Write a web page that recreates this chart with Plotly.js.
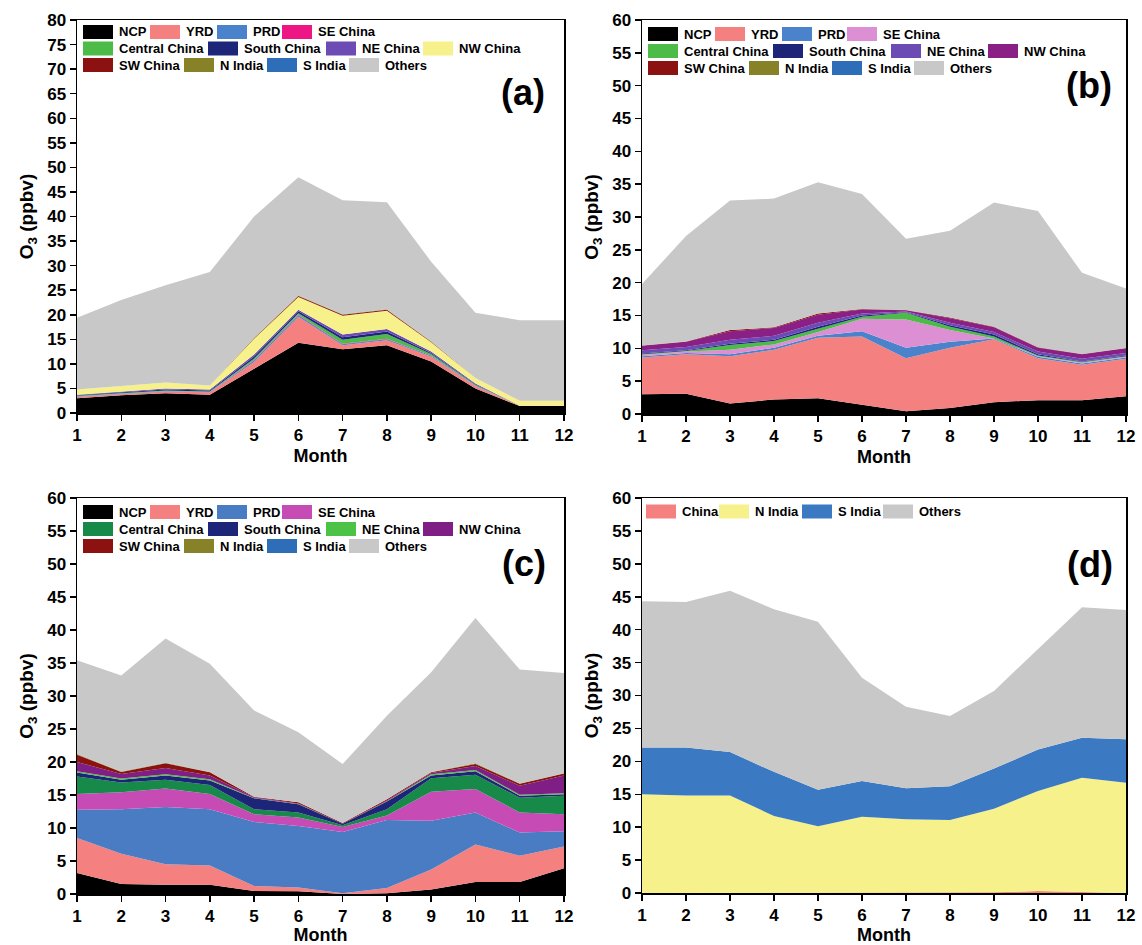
<!DOCTYPE html>
<html>
<head>
<meta charset="utf-8">
<script src="https://cdn.plot.ly/plotly-3.0.1.min.js"></script>
<style>
html, body { margin: 0; padding: 0; background: #ffffff; }
#chart { width: 1142px; height: 945px; }
</style>
</head>
<body>
<div id="chart"></div>
<script>
// ---------------- DATA ----------------
const months = [1, 2, 3, 4, 5, 6, 7, 8, 9, 10, 11, 12];
const monthLabels = ['1', '2', '3', '4', '5', '6', '7', '8', '9', '10', '11', '12'];

const regionNames = ['NCP', 'YRD', 'PRD', 'SE China', 'Central China', 'South China',
                     'NE China', 'NW China', 'SW China', 'N India', 'S India', 'Others'];
const regionNamesD = ['China', 'N India', 'S India', 'Others'];
const panelLabels = ['(a)', '(b)', '(c)', '(d)'];

// Panel (a)
const a_NCP     = [3.0, 3.6, 4.0, 3.7, 9.0, 14.3, 13.0, 13.8, 10.5, 5.0, 1.4, 1.4];
const a_YRD     = [0.3, 0.3, 0.4, 0.5, 1.4, 5.3, 0.8, 1.0, 1.0, 0.5, 0.1, 0.1];
const a_PRD     = [0.1, 0.1, 0.1, 0.1, 0.3, 0.3, 0.2, 0.2, 0.2, 0.1, 0.0, 0.0];
const a_SEChina = [0.0, 0.0, 0.0, 0.0, 0.1, 0.1, 0.1, 0.1, 0.0, 0.0, 0.0, 0.0];
const a_Central = [0.1, 0.1, 0.1, 0.1, 0.3, 0.3, 0.8, 1.0, 0.3, 0.1, 0.0, 0.0];
const a_South   = [0.1, 0.1, 0.2, 0.2, 0.4, 0.4, 0.5, 0.5, 0.2, 0.1, 0.0, 0.0];
const a_NE      = [0.1, 0.1, 0.2, 0.2, 0.4, 0.3, 0.6, 0.5, 0.3, 0.2, 0.0, 0.0];
const a_NW      = [1.1, 1.2, 1.2, 0.8, 3.2, 2.6, 3.8, 3.7, 1.9, 1.1, 1.0, 1.0];
const a_SW      = [0.0, 0.0, 0.0, 0.0, 0.1, 0.2, 0.2, 0.2, 0.1, 0.0, 0.0, 0.0];
const a_NIndia  = [0.0, 0.0, 0.0, 0.0, 0.1, 0.1, 0.1, 0.1, 0.1, 0.0, 0.0, 0.0];
const a_SIndia  = [0.0, 0.0, 0.0, 0.0, 0.0, 0.0, 0.0, 0.0, 0.0, 0.0, 0.0, 0.0];
const a_Others  = [14.6, 17.5, 19.8, 23.1, 24.7, 24.1, 23.2, 21.8, 16.2, 13.3, 16.4, 16.4];

// Panel (b)
const b_NCP     = [3.0, 3.1, 1.6, 2.2, 2.4, 1.4, 0.4, 0.9, 1.8, 2.1, 2.1, 2.7];
const b_YRD     = [5.6, 6.0, 7.2, 7.6, 9.2, 10.4, 8.1, 9.2, 9.6, 6.4, 5.4, 5.7];
const b_PRD     = [0.2, 0.2, 0.3, 0.3, 0.3, 0.8, 1.6, 0.9, 0.1, 0.2, 0.2, 0.2];
const b_SEChina = [0.2, 0.2, 0.7, 0.5, 0.6, 1.9, 4.3, 1.8, 0.0, 0.1, 0.1, 0.1];
const b_Central = [0.1, 0.1, 0.7, 0.5, 0.5, 0.3, 1.0, 0.5, 0.3, 0.1, 0.1, 0.1];
const b_South   = [0.1, 0.1, 0.2, 0.2, 0.3, 0.2, 0.1, 0.2, 0.3, 0.2, 0.1, 0.1];
const b_NE      = [0.5, 0.5, 0.6, 0.6, 0.6, 0.3, 0.1, 0.4, 0.4, 0.4, 0.4, 0.4];
const b_NW      = [0.7, 0.8, 1.3, 1.2, 1.2, 0.6, 0.2, 0.7, 0.7, 0.6, 0.7, 0.7];
const b_SW      = [0.05, 0.05, 0.2, 0.1, 0.2, 0.1, 0.05, 0.1, 0.1, 0.05, 0.05, 0.05];
const b_NIndia  = [0.0, 0.0, 0.0, 0.0, 0.0, 0.0, 0.0, 0.0, 0.0, 0.0, 0.0, 0.0];
const b_SIndia  = [0.0, 0.0, 0.0, 0.0, 0.0, 0.0, 0.0, 0.0, 0.0, 0.0, 0.0, 0.0];
const b_Others  = [9.35, 16.05, 19.7, 19.6, 20.0, 17.5, 10.85, 13.2, 18.9, 20.75, 12.35, 9.05];

// Panel (c)
const c_NCP     = [3.2, 1.5, 1.4, 1.4, 0.45, 0.4, 0.0, 0.1, 0.7, 1.8, 1.8, 3.9];
const c_YRD     = [5.3, 4.6, 3.1, 2.9, 0.75, 0.6, 0.1, 0.8, 3.0, 5.7, 4.0, 3.3];
const c_PRD     = [4.25, 6.75, 8.7, 8.55, 9.7, 9.3, 9.3, 10.3, 7.4, 4.85, 3.5, 2.3];
const c_SEChina = [2.4, 2.55, 2.8, 2.3, 1.2, 1.3, 0.75, 0.7, 4.4, 3.55, 3.05, 2.6];
const c_Central = [2.65, 1.5, 1.3, 1.35, 0.75, 0.75, 0.25, 0.95, 2.05, 2.15, 2.25, 2.8];
const c_South   = [0.6, 0.4, 0.65, 0.7, 1.65, 1.25, 0.25, 1.15, 0.4, 0.55, 0.3, 0.2];
const c_NE      = [0.2, 0.2, 0.2, 0.2, 0.05, 0.05, 0.0, 0.05, 0.2, 0.2, 0.15, 0.15];
const c_NW      = [1.4, 0.7, 0.95, 0.55, 0.1, 0.05, 0.0, 0.1, 0.2, 0.6, 1.35, 2.7];
const c_SW      = [1.1, 0.3, 0.7, 0.5, 0.1, 0.2, 0.1, 0.2, 0.1, 0.3, 0.3, 0.3];
const c_NIndia  = [0.1, 0.05, 0.1, 0.05, 0.0, 0.0, 0.0, 0.0, 0.05, 0.1, 0.05, 0.05];
const c_SIndia  = [0.0, 0.0, 0.0, 0.0, 0.0, 0.0, 0.0, 0.0, 0.0, 0.0, 0.0, 0.0];
const c_Others  = [14.2, 14.55, 18.8, 16.4, 13.05, 10.6, 8.95, 12.65, 15.1, 22.0, 17.25, 15.2];

// Panel (d)
const d_China   = [0.0, 0.0, 0.0, 0.0, 0.0, 0.0, 0.0, 0.0, 0.1, 0.3, 0.1, 0.0];
const d_NIndia  = [15.0, 14.8, 14.8, 11.7, 10.15, 11.6, 11.2, 11.1, 12.7, 15.2, 17.4, 16.75];
const d_SIndia  = [7.1, 7.3, 6.6, 6.7, 5.55, 5.4, 4.7, 5.1, 6.1, 6.3, 6.1, 6.6];
const d_Others  = [22.2, 22.1, 24.5, 24.7, 25.5, 15.7, 12.4, 10.7, 11.8, 15.3, 19.8, 19.65];

// ---------------- STYLE ----------------
const colorsA = ['#000000', '#f4817f', '#4a82cc', '#ee1585', '#4cbb47', '#1c2578',
                 '#6c4bb4', '#f7f18c', '#8c1212', '#878228', '#2e6db7', '#c8c8c8'];
const colorsB = ['#000000', '#f4817f', '#4a82cc', '#dd8fd3', '#4cbb47', '#1c2578',
                 '#6c4bb4', '#8a1f86', '#8c1212', '#878228', '#2e6db7', '#c8c8c8'];
const colorsC = ['#000000', '#f4817f', '#4a7cc4', '#c74bb5', '#178a4a', '#1c2578',
                 '#4cc247', '#7f1f86', '#8c1212', '#878228', '#2e6db7', '#c8c8c8'];
const colorsD = ['#f4817f', '#f7f18c', '#3b79c3', '#c8c8c8'];

const seriesA = [a_NCP, a_YRD, a_PRD, a_SEChina, a_Central, a_South, a_NE, a_NW, a_SW, a_NIndia, a_SIndia, a_Others];
const seriesB = [b_NCP, b_YRD, b_PRD, b_SEChina, b_Central, b_South, b_NE, b_NW, b_SW, b_NIndia, b_SIndia, b_Others];
const seriesC = [c_NCP, c_YRD, c_PRD, c_SEChina, c_Central, c_South, c_NE, c_NW, c_SW, c_NIndia, c_SIndia, c_Others];
const seriesD = [d_China, d_NIndia, d_SIndia, d_Others];

const FONT = 'Liberation Sans, Arial, Helvetica, sans-serif';
const W = 1142, H = 945;
const px2x = v => v / W;
const py2y = v => 1 - v / H;

// panel boxes in pixels (left/right = month 1/12, top/bottom = ymax/0)
const boxes = [
  {l: 77,  r: 564,  t: 20,  b: 413, ymax: 80, xa: 'x',  ya: 'y',  labX: 523,  labY: 93},
  {l: 642, r: 1126, t: 20,  b: 414, ymax: 60, xa: 'x2', ya: 'y2', labX: 1089, labY: 85},
  {l: 77,  r: 564,  t: 498, b: 894, ymax: 60, xa: 'x3', ya: 'y3', labX: 524,  labY: 563},
  {l: 642, r: 1126, t: 498, b: 893, ymax: 60, xa: 'x4', ya: 'y4', labX: 1090, labY: 564}
];

// ---------------- TRACES ----------------
const traces = [];
function addPanel(series, names, colors, box, group) {
  series.forEach((vals, i) => {
    traces.push({
      type: 'scatter',
      mode: 'lines',
      x: months,
      y: vals,
      name: names[i],
      stackgroup: group,
      fillcolor: colors[i],
      line: {width: 0, color: colors[i]},
      xaxis: box.xa,
      yaxis: box.ya,
      showlegend: false,
      hovertemplate: names[i] + ': %{y}<extra></extra>'
    });
  });
}
addPanel(seriesA, regionNames, colorsA, boxes[0], 'a');
addPanel(seriesB, regionNames, colorsB, boxes[1], 'b');
addPanel(seriesC, regionNames, colorsC, boxes[2], 'c');
addPanel(seriesD, regionNamesD, colorsD, boxes[3], 'd');

// ---------------- AXES ----------------
const tickFont = {family: FONT, size: 17, color: '#000000', weight: 'bold'};
const xTitleFont = {family: FONT, size: 18, color: '#000000', weight: 'bold'};
const yTitleFont = {family: FONT, size: 19, color: '#000000', weight: 'bold'};

function xAxis(box, anchor) {
  return {
    domain: [px2x(box.l), px2x(box.r)],
    anchor: anchor,
    range: [1, 12],
    tickmode: 'array', tickvals: months, ticktext: monthLabels,
    ticks: 'outside', ticklen: 6, tickwidth: 1.5, tickcolor: '#000000',
    showline: true, linecolor: '#000000', linewidth: 1.5, mirror: true,
    showgrid: false, zeroline: false,
    tickfont: tickFont,
    title: {text: 'Month', font: xTitleFont, standoff: 5},
    fixedrange: true
  };
}
function yAxis(box, anchor) {
  return {
    domain: [py2y(box.b), py2y(box.t)],
    anchor: anchor,
    range: [0, box.ymax],
    tick0: 0, dtick: 5,
    ticks: 'outside', ticklen: 6, tickwidth: 1.5, tickcolor: '#000000',
    showline: true, linecolor: '#000000', linewidth: 1.5, mirror: true,
    showgrid: false, zeroline: false,
    tickfont: tickFont,
    title: {text: 'O<sub>3</sub> (ppbv)', font: yTitleFont, standoff: 8},
    fixedrange: true
  };
}

// ---------------- LEGENDS (swatches + text) ----------------
const shapes = [];
const annotations = [];
const legendColX = [[6, 73, 140, 205], [6, 131, 249, 346], [6, 107, 190, 272]];
const legendRowY = [[12, 28.5, 45], [14, 31, 48], [14, 31, 48]];
const legendColXD = [4, 77, 160, 241];
const legendRowYD = 13.5;
const SW_W = 30, SW_H = 14, TXT_GAP = 34;

function legendItem(x0, yc, color, label) {
  shapes.push({
    type: 'rect', xref: 'paper', yref: 'paper',
    x0: px2x(x0), x1: px2x(x0 + SW_W),
    y0: py2y(yc + SW_H / 2), y1: py2y(yc - SW_H / 2),
    fillcolor: color, line: {width: 0}, layer: 'above'
  });
  annotations.push({
    xref: 'paper', yref: 'paper',
    x: px2x(x0 + TXT_GAP), y: py2y(yc),
    xanchor: 'left', yanchor: 'middle',
    text: label, showarrow: false,
    font: {family: FONT, size: 13, color: '#000000', weight: 'bold'}
  });
}

[[colorsA, 0], [colorsB, 1], [colorsC, 2]].forEach(([cols, p]) => {
  const box = boxes[p];
  regionNames.forEach((nm, k) => {
    const row = Math.floor(k / 4), col = k % 4;
    legendItem(box.l + legendColX[row][col], box.t + legendRowY[p][row], cols[k], nm);
  });
});
regionNamesD.forEach((nm, k) => {
  legendItem(boxes[3].l + legendColXD[k], boxes[3].t + legendRowYD, colorsD[k], nm);
});

// panel labels
boxes.forEach((box, i) => {
  annotations.push({
    xref: 'paper', yref: 'paper',
    x: px2x(box.labX), y: py2y(box.labY),
    xanchor: 'center', yanchor: 'middle',
    text: panelLabels[i], showarrow: false,
    font: {family: FONT, size: 36, color: '#000000', weight: 'bold'}
  });
});

// ---------------- LAYOUT ----------------
const layout = {
  width: W, height: H,
  margin: {l: 0, r: 0, t: 0, b: 0},
  paper_bgcolor: '#ffffff',
  plot_bgcolor: '#ffffff',
  showlegend: false,
  font: {family: FONT, color: '#000000'},
  xaxis:  xAxis(boxes[0], 'y'),
  yaxis:  yAxis(boxes[0], 'x'),
  xaxis2: xAxis(boxes[1], 'y2'),
  yaxis2: yAxis(boxes[1], 'x2'),
  xaxis3: xAxis(boxes[2], 'y3'),
  yaxis3: yAxis(boxes[2], 'x3'),
  xaxis4: xAxis(boxes[3], 'y4'),
  yaxis4: yAxis(boxes[3], 'x4'),
  shapes: shapes,
  annotations: annotations
};

Plotly.newPlot('chart', traces, layout, {displayModeBar: false, staticPlot: true});
</script>
</body>
</html>
